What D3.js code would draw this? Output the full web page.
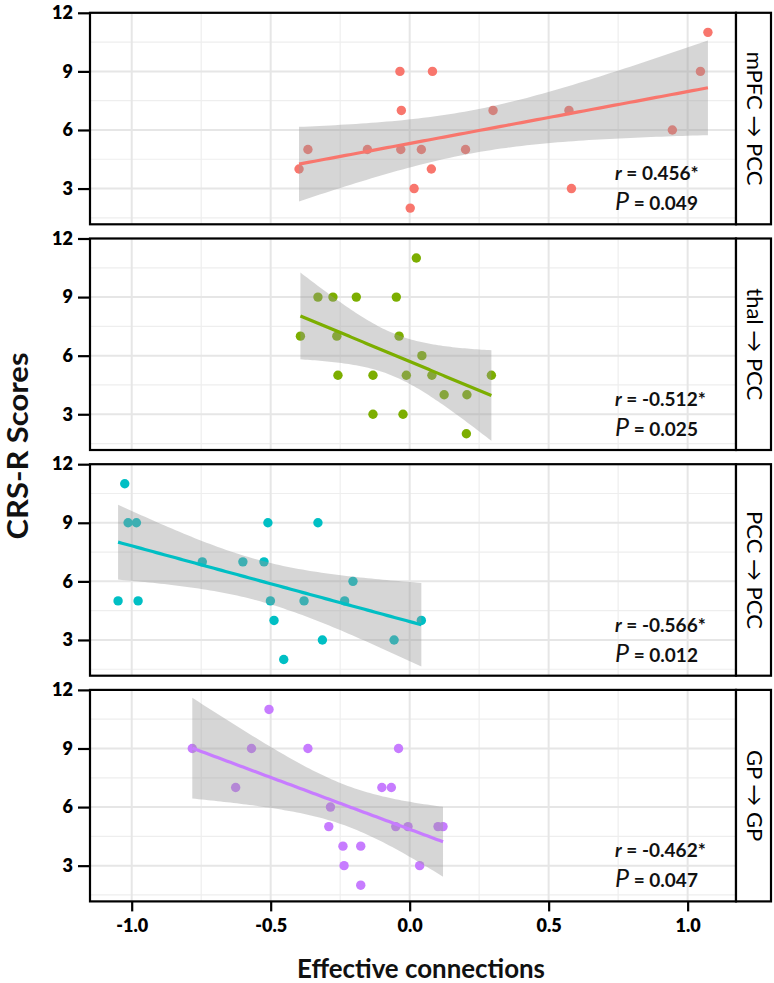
<!DOCTYPE html>
<html>
<head>
<meta charset="utf-8">
<script src="https://cdn.jsdelivr.net/npm/d3@7"></script>
<style>
  html, body { margin: 0; padding: 0; background: #ffffff; }
  svg { display: block; }
  text { font-family: Lato, "Open Sans", "DejaVu Sans", sans-serif; }
</style>
</head>
<body>
<svg id="chart" width="774" height="983"></svg>
<script>
// ---------------- DATA ----------------
const panelLabels = ["mPFC \u2192 PCC", "thal \u2192 PCC", "PCC \u2192 PCC", "GP \u2192 GP"];
const panelColors = ["#F8766D", "#7CAE00", "#00BFC4", "#C77CFF"];
const rLabels = ["0.456*", "-0.512*", "-0.566*", "-0.462*"];
const pLabels = ["0.049", "0.025", "0.012", "0.047"];

const mpfcX = [-0.398, -0.366, -0.152, -0.035, -0.030, -0.032, 0.082, 0.300, 0.573, 1.046, 1.073, 0.945, 0.042, 0.201, 0.078, 0.016, 0.002, 0.582];
const mpfcY = [4, 5, 5, 9, 7, 5, 9, 7, 7, 9, 11, 6, 5, 5, 4, 3, 2, 3];

const thalX = [-0.393, -0.330, -0.276, -0.192, -0.048, -0.262, -0.258, -0.132, -0.132, -0.024, 0.024, -0.038, 0.044, -0.012, 0.080, 0.294, 0.124, 0.206, 0.204];
const thalY = [7, 9, 9, 9, 9, 7, 5, 5, 3, 3, 11, 7, 6, 5, 5, 5, 4, 4, 2];

const pccX = [-1.025, -1.013, -0.983, -1.049, -0.977, -0.746, -0.600, -0.524, -0.510, -0.501, -0.488, -0.453, -0.330, -0.380, -0.314, -0.234, -0.204, -0.056, 0.042];
const pccY = [11, 9, 9, 5, 5, 7, 7, 7, 9, 5, 4, 2, 9, 5, 3, 5, 6, 3, 4];

const gpX = [-0.782, -0.506, -0.569, -0.626, -0.366, -0.285, -0.291, -0.240, -0.236, -0.176, -0.176, -0.100, -0.066, -0.040, -0.050, -0.006, 0.102, 0.120, 0.036];
const gpY = [9, 11, 9, 7, 9, 6, 5, 4, 3, 4, 2, 7, 7, 9, 5, 5, 5, 5, 3];

const seriesX = [mpfcX, thalX, pccX, gpX];
const seriesY = [mpfcY, thalY, pccY, gpY];

const xTickValues = [-1.0, -0.5, 0.0, 0.5, 1.0];
const xTickLabels = ["-1.0", "-0.5", "0.0", "0.5", "1.0"];
const xMinorValues = [-0.75, -0.25, 0.25, 0.75];
const yTickValues = [3, 6, 9, 12];
const yTickLabels = ["3", "6", "9", "12"];
const yMinorValues = [1.5, 4.5, 7.5, 10.5];

const xTitle = "Effective connections";
const yTitle = "CRS-R Scores";

// 97.5% t quantiles by degrees of freedom
const tQuantile = {15: 2.1314, 16: 2.1199, 17: 2.1098, 18: 2.1009, 19: 2.0930, 20: 2.0860};

// ---------------- LAYOUT ----------------
const svg = d3.select("#chart");
const left = 90, right = 736, stripRight = 771;
const panelTop0 = 12.8, panelStep = 225.7, panelH = 211.5;

const x = d3.scaleLinear().domain([-1.150, 1.174]).range([left, right]);

function fitLM(xs, ys) {
  const n = xs.length;
  const mx = d3.mean(xs), my = d3.mean(ys);
  let sxx = 0, sxy = 0, syy = 0;
  for (let i = 0; i < n; i++) {
    sxx += (xs[i] - mx) ** 2;
    sxy += (xs[i] - mx) * (ys[i] - my);
    syy += (ys[i] - my) ** 2;
  }
  const b = sxy / sxx, a = my - b * mx;
  const s = Math.sqrt((syy - b * sxy) / (n - 2));
  const t = tQuantile[n - 2] || 2.1;
  const [x0, x1] = d3.extent(xs);
  const grid = d3.range(80).map(i => x0 + (x1 - x0) * i / 79);
  return grid.map(g => {
    const f = a + b * g;
    const se = s * Math.sqrt(1 / n + (g - mx) ** 2 / sxx);
    return {x: g, y: f, lo: f - t * se, hi: f + t * se};
  });
}

panelLabels.forEach((label, i) => {
  const top = panelTop0 + i * panelStep;
  const y = d3.scaleLinear().domain([1.17, 12]).range([top + panelH, top]);
  const g = svg.append("g");

  g.append("rect").attr("x", left).attr("y", top).attr("width", right - left).attr("height", panelH).attr("fill", "#fff");

  const grid = g.append("g");
  grid.selectAll(".xmin").data(xMinorValues).enter().append("line")
    .attr("x1", d => x(d)).attr("x2", d => x(d)).attr("y1", top).attr("y2", top + panelH)
    .attr("stroke", "#eeeeee").attr("stroke-width", 1.2);
  grid.selectAll(".ymin").data(yMinorValues).enter().append("line")
    .attr("y1", d => y(d)).attr("y2", d => y(d)).attr("x1", left).attr("x2", right)
    .attr("stroke", "#eeeeee").attr("stroke-width", 1.2);
  grid.selectAll(".xmaj").data(xTickValues).enter().append("line")
    .attr("x1", d => x(d)).attr("x2", d => x(d)).attr("y1", top).attr("y2", top + panelH)
    .attr("stroke", "#e6e6e6").attr("stroke-width", 2);
  grid.selectAll(".ymaj").data(yTickValues).enter().append("line")
    .attr("y1", d => y(d)).attr("y2", d => y(d)).attr("x1", left).attr("x2", right)
    .attr("stroke", "#e6e6e6").attr("stroke-width", 2);

  const xs = seriesX[i], ys = seriesY[i];
  const pts = xs.map((v, k) => ({x: v, y: ys[k]}));
  const color = panelColors[i];

  g.selectAll("circle").data(pts).enter().append("circle")
    .attr("cx", d => x(d.x)).attr("cy", d => y(d.y)).attr("r", 4.7)
    .attr("fill", color);

  const fit = fitLM(xs, ys);
  g.append("path").datum(fit)
    .attr("d", d3.area().x(d => x(d.x)).y0(d => y(d.lo)).y1(d => y(d.hi)))
    .attr("fill", "#999999").attr("fill-opacity", 0.4);
  g.append("path").datum(fit)
    .attr("d", d3.line().x(d => x(d.x)).y(d => y(d.y)))
    .attr("fill", "none").attr("stroke", color).attr("stroke-width", 3.2);

  g.append("rect").attr("x", left).attr("y", top).attr("width", right - left).attr("height", panelH)
    .attr("fill", "none").attr("stroke", "#000").attr("stroke-width", 2.2);

  const yAxis = d3.axisLeft(y).tickValues(yTickValues).tickFormat((d, k) => yTickLabels[k]).tickSize(12).tickPadding(5);
  const ya = g.append("g").attr("transform", `translate(${left},0)`).call(yAxis);
  ya.select(".domain").remove();
  ya.selectAll(".tick line").attr("stroke", "#000").attr("stroke-width", 2.2);
  ya.selectAll(".tick text").attr("font-family", "Lato, sans-serif").attr("font-weight", 800)
    .attr("font-size", 18).attr("fill", "#000");

  g.append("rect").attr("x", right).attr("y", top).attr("width", stripRight - right).attr("height", panelH)
    .attr("fill", "#fff").attr("stroke", "#000").attr("stroke-width", 2.2);
  g.append("text")
    .attr("transform", `translate(${right + 10.5},${top + panelH / 2}) rotate(90)`)
    .attr("text-anchor", "middle").attr("font-size", 22).attr("fill", "#000")
    .text(label);

  const t1 = g.append("text").attr("x", 615).attr("y", top + 167.5)
    .attr("font-size", 19).attr("font-weight", "bold").attr("fill", "#111");
  t1.append("tspan").attr("font-style", "italic").text("r");
  t1.append("tspan").text(" = " + rLabels[i]);
  const t2 = g.append("text").attr("x", 615).attr("y", top + 197.5)
    .attr("font-size", 19).attr("font-weight", "bold").attr("fill", "#111");
  t2.append("tspan").attr("font-style", "italic").attr("font-weight", "normal").attr("font-size", 25).text("P");
  t2.append("tspan").text(" = " + pLabels[i]);

  if (i === panelLabels.length - 1) {
    const xAxis = d3.axisBottom(x).tickValues(xTickValues).tickFormat((d, k) => xTickLabels[k]).tickSize(10).tickPadding(8);
    const xa = g.append("g").attr("transform", `translate(0,${top + panelH})`).call(xAxis);
    xa.select(".domain").remove();
    xa.selectAll(".tick line").attr("stroke", "#000").attr("stroke-width", 2.2);
    xa.selectAll(".tick text").attr("font-family", "Lato, sans-serif").attr("font-weight", 800)
      .attr("font-size", 18).attr("fill", "#000");
  }
});

svg.append("text").attr("x", 421).attr("y", 978).attr("text-anchor", "middle")
  .attr("font-size", 27).attr("font-weight", "bold").attr("fill", "#111")
  .attr("textLength", 248).attr("lengthAdjust", "spacingAndGlyphs")
  .text(xTitle);
svg.append("text").attr("transform", "translate(28,446) rotate(-90)").attr("text-anchor", "middle")
  .attr("font-size", 29).attr("font-weight", "bold").attr("fill", "#111")
  .attr("textLength", 187).attr("lengthAdjust", "spacingAndGlyphs")
  .text(yTitle);
</script>
</body>
</html>
